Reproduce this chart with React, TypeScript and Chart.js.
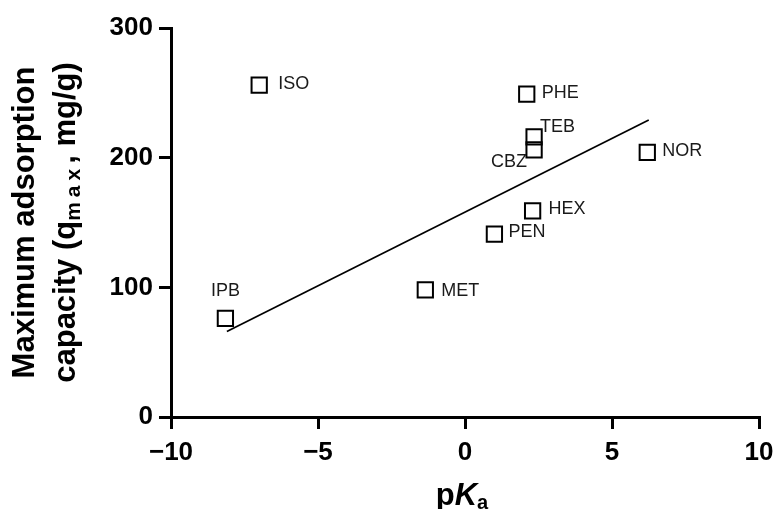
import React, { useEffect, useRef } from "react";
import { Chart, registerables } from "chart.js";

Chart.register(...registerables);

// ---- data ----
const compounds = ["ISO", "PHE", "TEB", "CBZ", "NOR", "HEX", "PEN", "MET", "IPB"];
const pKaValues = [-7.0, 2.1, 2.35, 2.35, 6.2, 2.3, 1.0, -1.35, -8.15];
const qmaxValues = [256, 249, 216, 206, 204, 159, 141, 98, 76];
const fitX = [-8.1, 6.25];
const fitY = [66, 229];
const xTicks = [-10, -5, 0, 5, 10];
const xTickLabels = ["\u221210", "\u22125", "0", "5", "10"];
const yTicks = [0, 100, 200, 300];
const yTickLabels = ["0", "100", "200", "300"];

// ---- label placement (style, not data) ----
const labelPlacement: Record<string, { align: CanvasTextAlign; dx: number; dy: number }> = {
  ISO: { align: "left", dx: 19, dy: -1 },
  PHE: { align: "left", dx: 15, dy: -1 },
  TEB: { align: "left", dx: 6, dy: -10 },
  CBZ: { align: "right", dx: -7, dy: 12 },
  NOR: { align: "left", dx: 15, dy: -1 },
  HEX: { align: "left", dx: 16, dy: -2 },
  PEN: { align: "left", dx: 14, dy: -2 },
  MET: { align: "left", dx: 16, dy: 1 },
  IPB: { align: "center", dx: 0, dy: -27 },
};

const FAMILY = '"Liberation Sans", Arial, Helvetica, sans-serif';

type Seg = { text: string; font: string; dy?: number; spacing?: number };

function segWidth(ctx: CanvasRenderingContext2D, s: Seg) {
  ctx.font = s.font;
  if (!s.spacing) return ctx.measureText(s.text).width;
  let w = 0;
  for (const ch of s.text) w += ctx.measureText(ch).width + s.spacing;
  return w;
}

function drawRich(ctx: CanvasRenderingContext2D, segs: Seg[], cx: number, baseline: number) {
  const total = segs.reduce((a, s) => a + segWidth(ctx, s), 0);
  let x = cx - total / 2;
  ctx.textAlign = "left";
  ctx.textBaseline = "alphabetic";
  for (const s of segs) {
    ctx.font = s.font;
    if (s.spacing) {
      for (const ch of s.text) {
        ctx.fillText(ch, x, baseline + (s.dy || 0));
        x += ctx.measureText(ch).width + s.spacing;
      }
    } else {
      ctx.fillText(s.text, x, baseline + (s.dy || 0));
      x += ctx.measureText(s.text).width;
    }
  }
}

export default function App() {
  const ref = useRef<HTMLCanvasElement>(null);

  useEffect(() => {
    const canvas = ref.current!;

    const titlesPlugin = {
      id: "axisTitles",
      afterDraw(chart: any) {
        const ctx: CanvasRenderingContext2D = chart.ctx;
        const area = chart.chartArea;
        ctx.save();
        ctx.fillStyle = "#000";
        const big = `bold 31px ${FAMILY}`;
        const sub = `bold 21px ${FAMILY}`;
        // y-axis title (rotated)
        const cy = (area.top + area.bottom) / 2;
        ctx.save();
        ctx.translate(26, cy);
        ctx.rotate(-Math.PI / 2);
        drawRich(ctx, [{ text: "Maximum adsorption", font: big }], 0, 8);
        ctx.restore();
        ctx.save();
        ctx.translate(67, cy);
        ctx.rotate(-Math.PI / 2);
        drawRich(
          ctx,
          [
            { text: "capacity (q", font: big },
            { text: "max", font: sub, dy: 5, spacing: 5 },
            { text: ", mg/g)", font: big },
          ],
          0,
          8
        );
        ctx.restore();
        // x-axis title
        const cx = (area.left + area.right) / 2 - 3;
        drawRich(
          ctx,
          [
            { text: "p", font: big },
            { text: "K", font: `italic bold 31px ${FAMILY}` },
            { text: "a", font: `bold 20px ${FAMILY}`, dy: 4 },
          ],
          cx,
          505
        );
        ctx.restore();
      },
    };

    const labelsPlugin = {
      id: "pointLabels",
      afterDatasetsDraw(chart: any) {
        const ctx: CanvasRenderingContext2D = chart.ctx;
        const xs = chart.scales.x;
        const ys = chart.scales.y;
        ctx.save();
        ctx.font = `18px ${FAMILY}`;
        ctx.fillStyle = "#1a1a1a";
        ctx.textBaseline = "middle";
        compounds.forEach((name, i) => {
          const p = labelPlacement[name];
          const px = xs.getPixelForValue(pKaValues[i]);
          const py = ys.getPixelForValue(qmaxValues[i]);
          ctx.textAlign = p.align;
          ctx.fillText(name, px + p.dx, py + p.dy);
        });
        ctx.restore();
      },
    };

    const chart = new Chart(canvas, {
      type: "scatter",
      data: {
        datasets: [
          {
            type: "scatter",
            data: compounds.map((_, i) => ({ x: pKaValues[i], y: qmaxValues[i] })),
            pointStyle: "rect",
            pointRadius: 10.8,
            pointHoverRadius: 10.8,
            borderWidth: 2,
            borderColor: "#000",
            backgroundColor: "rgba(255,255,255,0)",
          },
          {
            type: "line",
            data: fitX.map((x, i) => ({ x, y: fitY[i] })),
            borderColor: "#000",
            borderWidth: 1.7,
            pointRadius: 0,
            fill: false,
            tension: 0,
          } as any,
        ],
      },
      options: {
        responsive: false,
        animation: false,
        devicePixelRatio: 1,
        layout: { padding: { left: 0, right: 17, top: 28, bottom: 0 } },
        plugins: { legend: { display: false }, tooltip: { enabled: false } },
        scales: {
          x: {
            type: "linear",
            min: -10,
            max: 10,
            afterBuildTicks: (s: any) => {
              s.ticks = xTicks.map((v) => ({ value: v }));
            },
            afterFit: (s: any) => {
              s.height = 92;
              s.paddingLeft = 0;
              s.paddingRight = 0;
            },
            grid: {
              drawOnChartArea: false,
              drawTicks: true,
              tickLength: 12,
              tickWidth: 3,
              tickColor: "#000",
              lineWidth: 3,
              color: "#000",
            },
            border: { display: true, color: "#000", width: 3 },
            ticks: {
              font: { family: FAMILY, size: 26, weight: "bold" },
              color: "#000",
              padding: 8,
              maxRotation: 0,
              autoSkip: false,
              callback: (v: any) => xTickLabels[xTicks.indexOf(Number(v))],
            },
          },
          y: {
            type: "linear",
            min: 0,
            max: 300,
            afterBuildTicks: (s: any) => {
              s.ticks = yTicks.map((v) => ({ value: v }));
            },
            afterFit: (s: any) => {
              s.width = 171;
              s.paddingTop = 0;
              s.paddingBottom = 0;
            },
            grid: {
              drawOnChartArea: false,
              drawTicks: true,
              tickLength: 12,
              tickWidth: 3,
              tickColor: "#000",
              lineWidth: 3,
              color: "#000",
            },
            border: { display: true, color: "#000", width: 3 },
            ticks: {
              font: { family: FAMILY, size: 26, weight: "bold" },
              color: "#000",
              padding: 6,
              autoSkip: false,
              callback: (v: any) => yTickLabels[yTicks.indexOf(Number(v))],
            },
          },
        },
      } as any,
      plugins: [labelsPlugin, titlesPlugin],
    });

    return () => chart.destroy();
  }, []);

  return (
    <div style={{ position: "fixed", left: 0, top: 0, width: 776, height: 509, background: "#fff" }}>
      <canvas ref={ref} width={776} height={509} style={{ display: "block", width: 776, height: 509 }} />
    </div>
  );
}
